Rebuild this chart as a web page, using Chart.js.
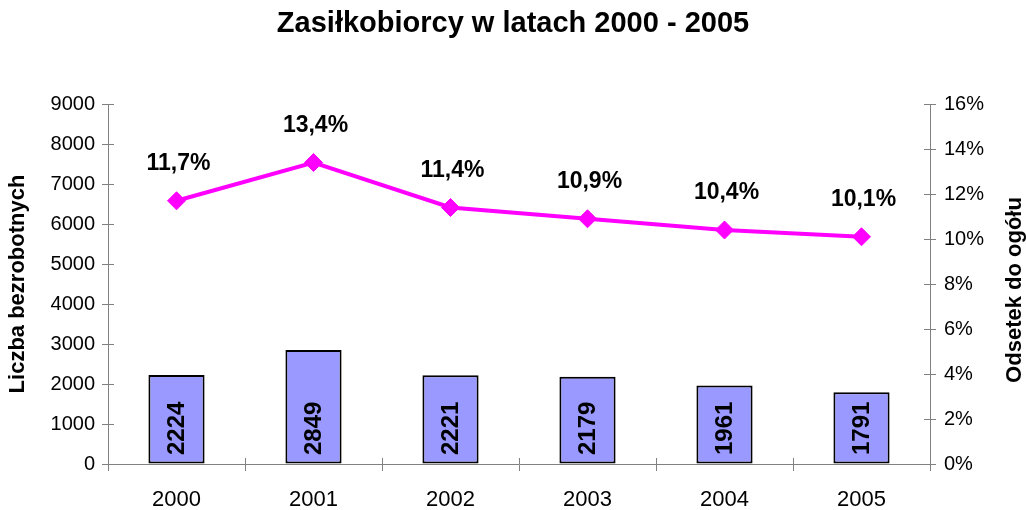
<!DOCTYPE html>
<html>
<head>
<meta charset="utf-8">
<script src="https://cdn.jsdelivr.net/npm/chart.js@4/dist/chart.umd.min.js"></script>
<style>
  html, body { margin: 0; padding: 0; background: #fff; }
  #wrap { width: 1026px; height: 510px; }
</style>
</head>
<body>
<div id="wrap"><canvas id="chart"></canvas></div>
<script>
const years = ['2000', '2001', '2002', '2003', '2004', '2005'];
const recipients = [2224, 2849, 2221, 2179, 1961, 1791];
const shareOfTotal = [11.7, 13.4, 11.4, 10.9, 10.4, 10.1];

const FONT = '"Liberation Sans", Arial, sans-serif';
const AXIS = '#808080';

// labels: vertical numbers inside bars, percent labels above line points, right axis title
const labelsPlugin = {
    id: 'labels',
    afterDatasetsDraw(chart) {
        const ctx = chart.ctx;
        const yScale = chart.scales.y;
        const base = yScale.getPixelForValue(0);
        const area = chart.chartArea;

        ctx.save();
        ctx.fillStyle = '#000';
        ctx.font = 'bold 24px ' + FONT;
        chart.getDatasetMeta(1).data.forEach(function(bar, i) {
            ctx.save();
            ctx.translate(bar.x, base - 9);
            ctx.rotate(-Math.PI / 2);
            ctx.textAlign = 'left';
            ctx.textBaseline = 'middle';
            ctx.fillText(String(recipients[i]), 0, 1);
            ctx.restore();
        });

        ctx.font = 'bold 23px ' + FONT;
        ctx.textAlign = 'center';
        ctx.textBaseline = 'middle';
        chart.getDatasetMeta(0).data.forEach(function(pt, i) {
            ctx.fillText(shareOfTotal[i].toFixed(1).replace('.', ',') + '%', pt.x + 2, pt.y - 37);
        });

        // right axis title, reading bottom to top
        ctx.font = 'bold 22px ' + FONT;
        ctx.translate(1015, 290);
        ctx.rotate(-Math.PI / 2);
        ctx.fillText('Odsetek do ogółu', 0, 0);
        ctx.restore();

        // inner halves of the crossing tick marks
        ctx.save();
        ctx.strokeStyle = AXIS;
        ctx.lineWidth = 1;
        ctx.beginPath();
        yScale.ticks.forEach(function(t) {
            const py = Math.round(yScale.getPixelForValue(t.value)) + 0.5;
            ctx.moveTo(area.left, py); ctx.lineTo(area.left + 6, py);
        });
        const y1 = chart.scales.y1;
        y1.ticks.forEach(function(t) {
            const py = Math.round(y1.getPixelForValue(t.value)) + 0.5;
            ctx.moveTo(area.right - 6, py); ctx.lineTo(area.right, py);
        });
        const n = years.length;
        for (let i = 0; i <= n; i++) {
            const px = Math.round(area.left + (area.right - area.left) * i / n) + 0.5;
            ctx.moveTo(px, area.bottom - 6); ctx.lineTo(px, area.bottom);
        }
        ctx.stroke();
        ctx.restore();
    }
};

new Chart(document.getElementById('chart'), {
    data: {
        labels: years,
        datasets: [
            {
                type: 'line',
                label: 'Odsetek do ogółu',
                data: shareOfTotal,
                yAxisID: 'y1',
                borderColor: '#FF00FF',
                backgroundColor: '#FF00FF',
                borderWidth: 4,
                pointStyle: 'rectRot',
                pointRadius: 9,
                pointBorderWidth: 1,
                tension: 0,
                order: 0
            },
            {
                type: 'bar',
                label: 'Liczba bezrobotnych',
                data: recipients,
                yAxisID: 'y',
                backgroundColor: '#9999FF',
                borderColor: '#000',
                borderWidth: 2,
                borderSkipped: false,
                barPercentage: 0.41,
                categoryPercentage: 1,
                order: 1
            }
        ]
    },
    options: {
        responsive: true,
        maintainAspectRatio: false,
        animation: false,
        layout: { padding: 0 },
        plugins: {
            legend: { display: false },
            tooltip: { enabled: false },
            title: {
                display: true,
                text: 'Zasiłkobiorcy w latach 2000 - 2005',
                color: '#000',
                font: { family: FONT, size: 29, weight: 'bold' },
                padding: { top: 7, bottom: 62.2 }
            }
        },
        scales: {
            x: {
                offset: true,
                grid: { offset: true, drawOnChartArea: false, color: AXIS, tickLength: 7 },
                border: { color: AXIS, width: 1 },
                ticks: { color: '#000', font: { family: FONT, size: 22 }, padding: 16 },
                afterFit: function(s) { s.height = 46; }
            },
            y: {
                position: 'left',
                min: 0, max: 9000,
                ticks: {
                    stepSize: 1000, color: '#000', font: { family: FONT, size: 20 }, padding: 7,
                    callback: function(v) { return String(v); }
                },
                grid: { drawOnChartArea: false, color: AXIS, tickLength: 6 },
                border: { color: AXIS, width: 1 },
                title: {
                    display: true, text: 'Liczba bezrobotnych', color: '#000',
                    font: { family: FONT, size: 22, weight: 'bold' },
                    padding: { top: 5, bottom: 4 }
                },
                afterFit: function(s) { s.width = 108; }
            },
            y1: {
                position: 'right',
                min: 0, max: 16,
                ticks: {
                    stepSize: 2, color: '#000', font: { family: FONT, size: 20 }, padding: 8,
                    callback: function(v) { return v + '%'; }
                },
                grid: { drawOnChartArea: false, color: AXIS, tickLength: 6 },
                border: { color: AXIS, width: 1 },
                afterFit: function(s) { s.width = 96; }
            }
        }
    },
    plugins: [labelsPlugin]
});
</script>
</body>
</html>
